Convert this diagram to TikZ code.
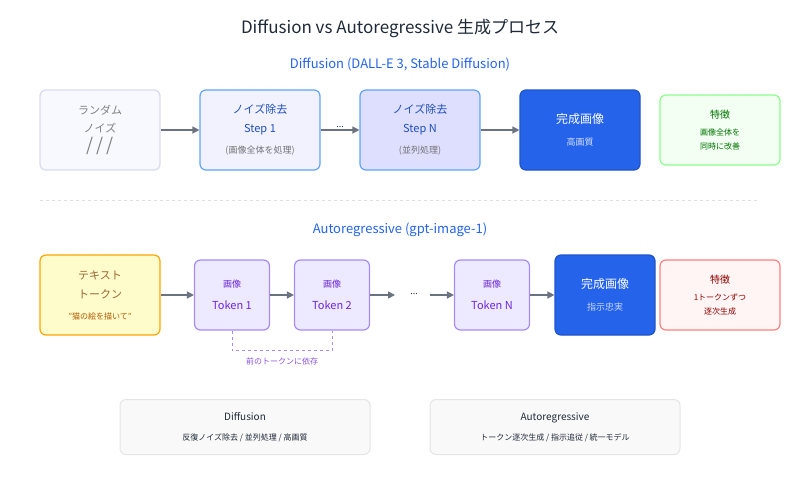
\documentclass[tikz,border=0pt]{standalone}
\usepackage{fontspec}
\setmainfont{Noto Sans CJK JP}
\usetikzlibrary{positioning, arrows.meta}

\definecolor{ink}{HTML}{1F2937}
\definecolor{blu}{HTML}{2563EB}
\definecolor{arr}{HTML}{6B7280}
\definecolor{pur}{HTML}{6D28D9}
\definecolor{purline}{HTML}{A78BFA}
\definecolor{purfill}{HTML}{EDE9FE}
\definecolor{sky}{HTML}{60A5FA}

\tikzset{
  box/.style={draw, rounded corners=6pt, line width=1.2pt, align=center, inner sep=0pt},
  big/.style={box, minimum width=120pt, minimum height=80pt},
  tok/.style={box, minimum width=75pt, minimum height=70pt, fill=purfill, draw=purline, text=pur,
    font=\fontsize{11}{16}\selectfont},
  flow/.style={-{Triangle[length=7pt,width=7pt]}, draw=arr, line width=1.5pt},
  t/.style={font=\fontsize{#1}{#1}\selectfont}
}

\begin{document}
\begin{tikzpicture}[x=1pt,y=-1pt,node distance=160pt,on grid]
        \useasboundingbox (0,0) rectangle (800,480);
        \node[t=17, text=ink] (title) at (400,28) {Diffusion vs Autoregressive 生成プロセス};
        \node[t=13, text=blu] (dtitle) at (400,64) {Diffusion (DALL-E 3, Stable Diffusion)};
        % diffusion row
        \node[big, fill=gray!8!blue!3, draw=gray!55!blue!20, text=gray, font=\fontsize{11}{12}\selectfont] (noise) at (100,130)
                {ランダム\\[6pt] ノイズ\\[3pt] {\fontsize{18}{18}\selectfont /\,/\,/}};
        \node[big, fill=blue!5, draw=sky, right=of noise, text=blu!80!black, font=\fontsize{11}{12}\selectfont] (step1)
                {ノイズ除去\\[7pt] Step 1\\[9pt] {\fontsize{9}{10}\selectfont\textcolor{gray!90!black}{(画像全体を処理)}}};
        \node[big, fill=blue!13, draw=sky, right=of step1, text=blu!80!black, font=\fontsize{11}{12}\selectfont] (stepn)
                {ノイズ除去\\[7pt] Step N\\[9pt] {\fontsize{9}{10}\selectfont\textcolor{gray!90!black}{(並列処理)}}};
        \node[big, fill=blu, draw=blu!85!black, text=white, right=of stepn, font=\fontsize{12}{13}\selectfont] (dout)
                {完成画像\\[9pt] {\fontsize{9}{10}\selectfont\textcolor{white!80!blu}{高画質}}};
        \node[box, minimum width=120pt, minimum height=70pt, fill=green!5, draw=green!45!white, text=green!45!black, right=140pt of dout, font=\fontsize{8}{9}\selectfont] (dfeat)
                {{\fontsize{10}{11}\selectfont 特徴}\\[8pt] 画像全体を\\[5pt] 同時に改善};
        \draw[flow] (noise) -- (step1);
        \draw[flow] (step1) -- node[above=-2pt, t=9, text=ink] {...} (stepn);
        \draw[flow] (stepn) -- (dout);

        \draw[dashed, gray!25, line width=1pt] (40,200) -- (760,200);
        \node[t=13, text=blu] (atitle) at (400,230) {Autoregressive (gpt-image-1)};
        % autoregressive row
        \node[big, fill=yellow!20, draw=orange!70!yellow, text=brown!80!black, font=\fontsize{11}{12}\selectfont] (text) at (100,295)
                {テキスト\\[7pt] トークン\\[9pt] {\fontsize{8}{9}\selectfont\textcolor{orange!70!black}{"猫の絵を描いて"}}};
        \node[tok] (tok1) at (232,295) {{\fontsize{9}{10}\selectfont 画像}\\[6pt] Token 1};
        \node[tok, right=100pt of tok1] (tok2) {{\fontsize{9}{10}\selectfont 画像}\\[6pt] Token 2};
        \node[tok] (tokn) at (492,295) {{\fontsize{9}{10}\selectfont 画像}\\[6pt] Token N};
        \node[box, minimum width=100pt, minimum height=80pt, fill=blu, draw=blu!85!black, text=white, font=\fontsize{12}{13}\selectfont] (aout) at (605,295)
                {完成画像\\[9pt] {\fontsize{9}{10}\selectfont\textcolor{white!75!blu}{指示忠実}}};
        \node[box, minimum width=120pt, minimum height=70pt, fill=red!4, draw=red!50!white, text=red!55!black, font=\fontsize{8}{9}\selectfont] (afeat) at (720,295)
                {{\fontsize{10}{11}\selectfont 特徴}\\[8pt] 1トークンずつ\\[5pt] 逐次生成};
        \coordinate (gap1) at (395,295);
        \coordinate (gap2) at (430,295);
        \node[t=9, text=ink] (dots) at (414,294) {...};
        \draw[flow] (text) -- (tok1);
        \draw[flow] (tok1) -- (tok2);
        \draw[flow] (tok2) -- (gap1);
        \draw[flow] (gap2) -- (tokn);
        \draw[flow] (tokn) -- (aout);
        \draw[dashed, purline, line width=1pt] (tok1.south) -- ++(0,20) -| (tok2.south);
        \node[t=8, text=pur!80] (dep) at (282,361) {前のトークンに依存};

        % summary
        \node[box, line width=1pt, minimum width=250pt, minimum height=55pt, fill=gray!5, draw=gray!20, text=ink, font=\fontsize{10}{11}\selectfont] (sdiff) at (245,427)
                {Diffusion\\[9pt] {\fontsize{8}{9}\selectfont 反復ノイズ除去 / 並列処理 / 高画質}};
        \node[box, line width=1pt, minimum width=250pt, minimum height=55pt, fill=gray!5, draw=gray!20, text=ink, font=\fontsize{10}{11}\selectfont] (sauto) at (555,427)
                {Autoregressive\\[9pt] {\fontsize{8}{9}\selectfont トークン逐次生成 / 指示追従 / 統一モデル}};
    \end{tikzpicture}
\end{document}
